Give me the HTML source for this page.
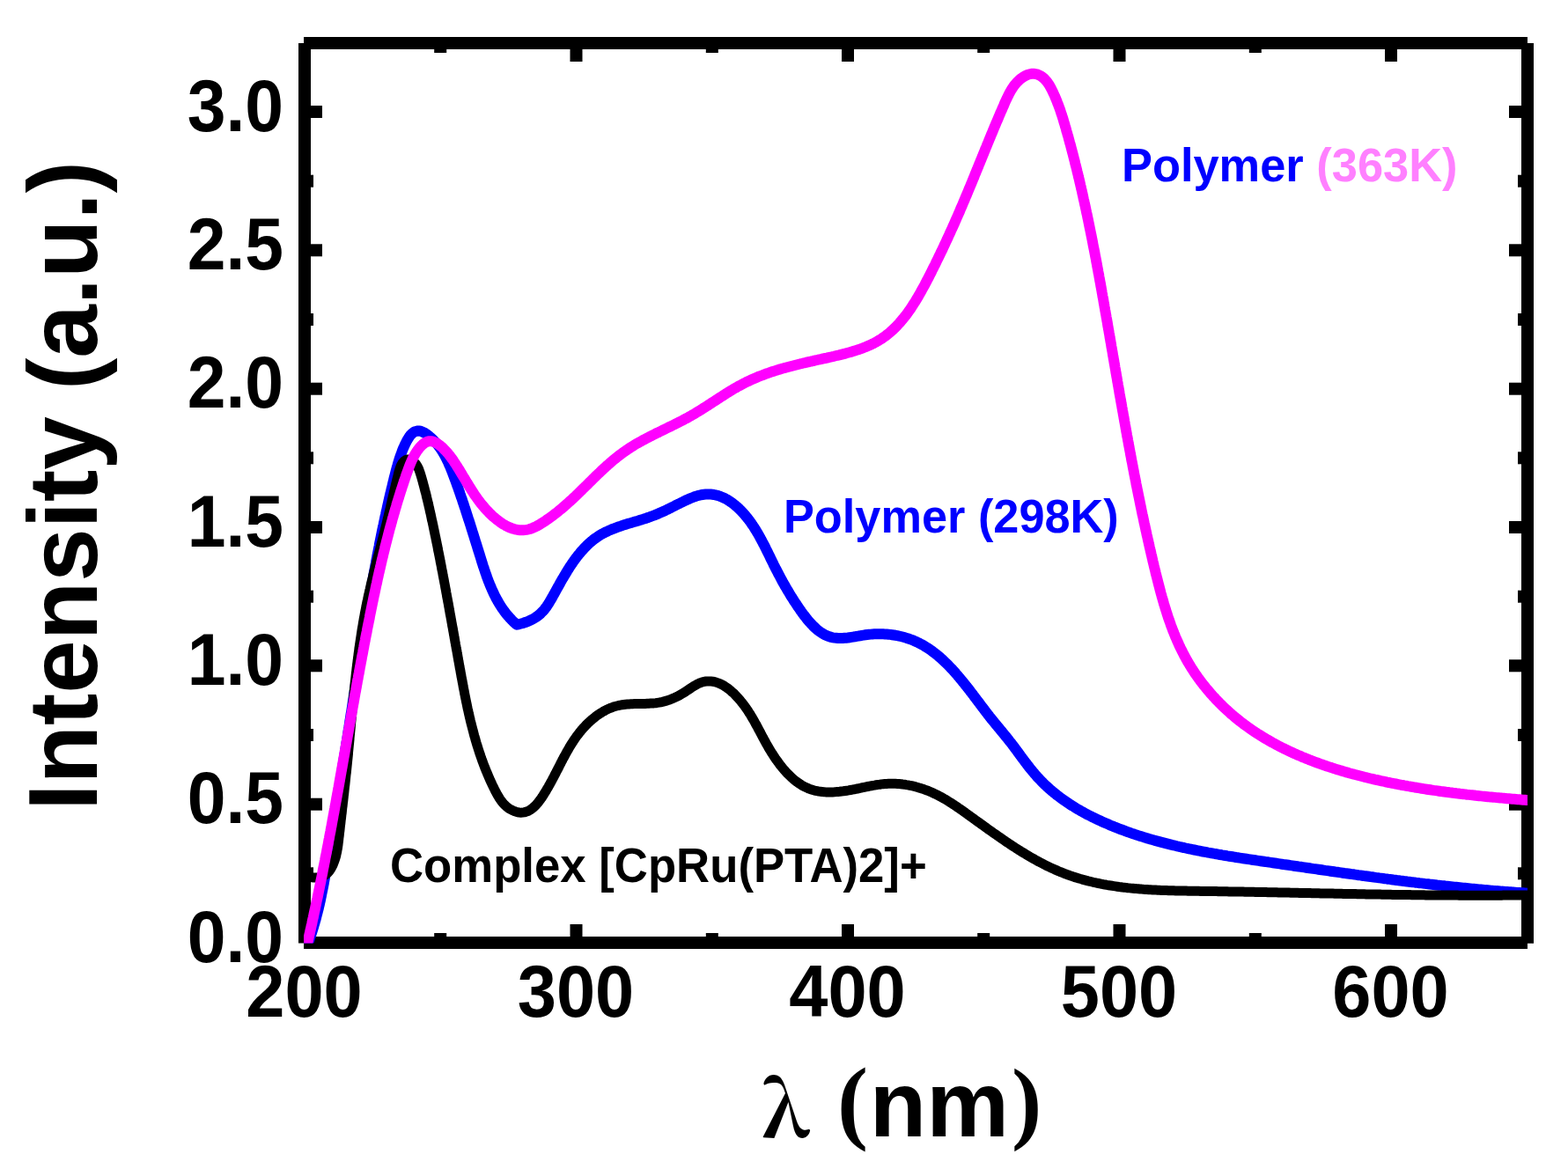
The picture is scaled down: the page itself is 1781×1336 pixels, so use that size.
<!DOCTYPE html>
<html><head><meta charset="utf-8"><title>Intensity vs wavelength</title>
<style>
html,body{margin:0;padding:0;background:#fff;}
body{width:1781px;height:1336px;overflow:hidden;}
svg{display:block;}
text{font-family:"Liberation Sans",Arial,sans-serif;font-weight:bold;}
.ser{font-family:"Liberation Serif","DejaVu Serif",serif;font-weight:bold;}
.lam{font-family:"Noto Serif CJK SC","Liberation Serif",serif;font-weight:700;}
</style></head><body>
<svg width="1781" height="1336" viewBox="0 0 1781 1336">
<rect x="0" y="0" width="1781" height="1336" fill="#fff"/>
<defs><clipPath id="pc"><rect x="345" y="49" width="1390" height="1022.6"/></clipPath></defs>

<g stroke="#000" stroke-width="14" fill="none" stroke-linecap="butt">
<path d="M345,49H1735M345,1071H1735M346,49V1071.6M1735,49V1071.8"/>
</g>
<g fill="#000">
<rect x="493.2" y="1060.0" width="14" height="4"/>
<rect x="493.2" y="56" width="14" height="4"/>
<rect x="647.5" y="1050.0" width="14" height="14"/>
<rect x="647.5" y="56" width="14" height="14"/>
<rect x="801.8" y="1060.0" width="14" height="4"/>
<rect x="801.8" y="56" width="14" height="4"/>
<rect x="956.0" y="1050.0" width="14" height="14"/>
<rect x="956.0" y="56" width="14" height="14"/>
<rect x="1110.2" y="1060.0" width="14" height="4"/>
<rect x="1110.2" y="56" width="14" height="4"/>
<rect x="1264.5" y="1050.0" width="14" height="14"/>
<rect x="1264.5" y="56" width="14" height="14"/>
<rect x="1418.8" y="1060.0" width="14" height="4"/>
<rect x="1418.8" y="56" width="14" height="4"/>
<rect x="1573.0" y="1050.0" width="14" height="14"/>
<rect x="1573.0" y="56" width="14" height="14"/>
<rect x="353" y="985.3" width="3" height="14"/>
<rect x="1724" y="985.3" width="4" height="14"/>
<rect x="353" y="906.7" width="13" height="14"/>
<rect x="1714" y="906.7" width="14" height="14"/>
<rect x="353" y="828.0" width="3" height="14"/>
<rect x="1724" y="828.0" width="4" height="14"/>
<rect x="353" y="749.3" width="13" height="14"/>
<rect x="1714" y="749.3" width="14" height="14"/>
<rect x="353" y="670.7" width="3" height="14"/>
<rect x="1724" y="670.7" width="4" height="14"/>
<rect x="353" y="592.0" width="13" height="14"/>
<rect x="1714" y="592.0" width="14" height="14"/>
<rect x="353" y="513.3" width="3" height="14"/>
<rect x="1724" y="513.3" width="4" height="14"/>
<rect x="353" y="434.7" width="13" height="14"/>
<rect x="1714" y="434.7" width="14" height="14"/>
<rect x="353" y="356.0" width="3" height="14"/>
<rect x="1724" y="356.0" width="4" height="14"/>
<rect x="353" y="277.3" width="13" height="14"/>
<rect x="1714" y="277.3" width="14" height="14"/>
<rect x="353" y="198.7" width="3" height="14"/>
<rect x="1724" y="198.7" width="4" height="14"/>
<rect x="353" y="120.0" width="13" height="14"/>
<rect x="1714" y="120.0" width="14" height="14"/>
</g>
<g clip-path="url(#pc)" fill="none" stroke-linejoin="round" stroke-linecap="butt">
<path stroke="#0000ff" stroke-width="12" d="M344.6,1085.0L345.4,1083.1 346.2,1081.3 346.9,1079.4 347.7,1077.5 348.4,1075.7 349.1,1073.8 349.8,1071.9 350.5,1070.0 351.2,1068.1 351.9,1066.2 352.5,1064.3 353.2,1062.4 353.8,1060.5 354.4,1058.6 355.0,1056.7 355.6,1054.8 356.2,1052.9 356.7,1050.9 357.3,1049.0 357.8,1047.1 358.4,1045.2 358.9,1043.2 359.4,1041.3 359.9,1039.3 360.4,1037.4 360.9,1035.5 361.4,1033.5 361.9,1031.6 362.3,1029.6 362.8,1027.7 363.2,1025.7 363.7,1023.8 364.1,1021.8 364.5,1019.8 364.9,1017.9 365.3,1015.9 365.7,1013.9 366.1,1012.0 366.5,1010.0 366.9,1008.0 367.3,1006.1 367.7,1004.1 368.0,1002.1 368.4,1000.1 368.7,998.2 369.1,996.2 369.4,994.2 369.8,992.2 370.1,990.2 370.5,988.3 370.8,986.3 371.1,984.3 371.4,982.3 371.8,980.3 372.1,978.3 372.4,976.4 372.7,974.4 373.1,972.4 373.4,970.4 373.7,968.4 374.0,966.4 374.3,964.5 374.6,962.5 374.9,960.5 375.3,958.5 375.6,956.5 375.9,954.5 376.2,952.6 376.5,950.6 376.8,948.6 377.1,946.6 377.4,944.6 377.8,942.6 378.1,940.7 378.4,938.7 378.7,936.7 379.0,934.7 379.3,932.7 379.7,930.8 380.0,928.8 380.3,926.8 380.6,924.8 380.9,922.8 381.2,920.9 381.5,918.9 381.9,916.9 382.2,914.9 382.5,913.0 382.8,911.0 383.1,909.0 383.4,907.0 383.8,905.0 384.1,903.1 384.4,901.1 384.7,899.1 385.0,897.1 385.3,895.2 385.7,893.2 386.0,891.2 386.3,889.2 386.6,887.2 386.9,885.3 387.2,883.3 387.5,881.3 387.9,879.3 388.2,877.4 388.5,875.4 388.8,873.4 389.1,871.4 389.4,869.5 389.8,867.5 390.1,865.5 390.4,863.5 390.7,861.6 391.0,859.6 391.3,857.6 391.7,855.6 392.0,853.6 392.3,851.7 392.6,849.7 392.9,847.7 393.2,845.7 393.5,843.8 393.9,841.8 394.2,839.8 394.5,837.8 394.8,835.8 395.1,833.9 395.4,831.9 395.7,829.9 396.0,827.9 396.4,826.0 396.7,824.0 397.0,822.0 397.3,820.0 397.6,818.0 397.9,816.1 398.2,814.1 398.5,812.1 398.8,810.1 399.2,808.1 399.5,806.1 399.8,804.2 400.1,802.2 400.4,800.2 400.7,798.2 401.0,796.2 401.3,794.3 401.6,792.3 401.9,790.3 402.3,788.3 402.6,786.3 402.9,784.3 403.2,782.3 403.5,780.4 403.8,778.4 404.1,776.4 404.4,774.4 404.7,772.4 405.0,770.4 405.3,768.5 405.6,766.5 406.0,764.5 406.3,762.5 406.6,760.5 406.9,758.5 407.2,756.5 407.5,754.6 407.8,752.6 408.1,750.6 408.4,748.6 408.8,746.6 409.1,744.6 409.4,742.6 409.7,740.7 410.0,738.7 410.3,736.7 410.6,734.7 411.0,732.7 411.3,730.7 411.6,728.7 411.9,726.8 412.2,724.8 412.5,722.8 412.9,720.8 413.2,718.8 413.5,716.8 413.8,714.8 414.2,712.9 414.5,710.9 414.8,708.9 415.1,706.9 415.5,704.9 415.8,702.9 416.1,701.0 416.4,699.0 416.8,697.0 417.1,695.0 417.4,693.0 417.8,691.1 418.1,689.1 418.4,687.1 418.8,685.1 419.1,683.1 419.4,681.2 419.8,679.2 420.1,677.2 420.5,675.2 420.8,673.2 421.2,671.3 421.5,669.3 421.9,667.3 422.2,665.3 422.6,663.3 422.9,661.4 423.3,659.4 423.6,657.4 424.0,655.4 424.3,653.5 424.7,651.5 425.0,649.5 425.4,647.6 425.8,645.6 426.1,643.6 426.5,641.6 426.9,639.7 427.2,637.7 427.6,635.7 428.0,633.8 428.4,631.8 428.7,629.8 429.1,627.9 429.5,625.9 429.9,623.9 430.3,622.0 430.7,620.0 431.0,618.0 431.4,616.1 431.8,614.1 432.2,612.1 432.6,610.2 433.0,608.2 433.4,606.3 433.8,604.3 434.2,602.3 434.6,600.4 435.0,598.4 435.5,596.5 435.9,594.5 436.3,592.6 436.7,590.6 437.1,588.7 437.5,586.7 438.0,584.8 438.4,582.8 438.8,580.9 439.3,578.9 439.7,577.0 440.1,575.0 440.6,573.1 441.0,571.1 441.4,569.2 441.9,567.2 442.3,565.3 442.8,563.4 443.2,561.4 443.7,559.5 444.2,557.5 444.6,555.6 445.1,553.7 445.6,551.7 446.0,549.8 446.5,547.9 447.0,545.9 447.4,544.0 447.9,542.1 448.4,540.1 448.9,538.2 449.4,536.3 449.9,534.4 450.4,532.4 450.9,530.5 451.5,528.6 452.0,526.7 452.6,524.7 453.2,522.8 453.8,520.9 454.4,519.0 455.1,517.1 455.8,515.2 456.5,513.3 457.2,511.3 458.0,509.4 458.9,507.5 459.7,505.6 460.6,503.7 461.6,501.8 462.6,499.9 463.7,498.1 464.8,496.3 466.0,494.6 467.4,493.2 468.8,491.9 470.4,490.8 472.1,490.0 473.9,489.6 475.7,489.5 477.6,489.8 479.4,490.4 481.2,491.2 483.1,492.3 484.8,493.5 486.6,494.8 488.2,496.2 489.8,497.6 491.3,499.0 492.8,500.5 494.2,501.9 495.6,503.5 496.9,505.0 498.1,506.6 499.3,508.2 500.5,509.8 501.6,511.5 502.7,513.2 503.7,514.9 504.7,516.6 505.6,518.3 506.5,520.1 507.4,521.9 508.3,523.6 509.1,525.4 509.9,527.3 510.7,529.1 511.5,530.9 512.2,532.8 513.0,534.6 513.7,536.5 514.4,538.3 515.1,540.2 515.8,542.0 516.5,543.9 517.2,545.8 517.9,547.7 518.6,549.5 519.2,551.4 519.9,553.3 520.6,555.2 521.2,557.0 521.9,558.9 522.5,560.8 523.2,562.7 523.8,564.6 524.5,566.4 525.1,568.3 525.7,570.2 526.4,572.1 527.0,574.0 527.6,575.9 528.3,577.8 528.9,579.7 529.5,581.6 530.1,583.5 530.7,585.4 531.3,587.3 531.9,589.2 532.6,591.1 533.2,593.0 533.8,594.9 534.4,596.8 535.0,598.7 535.6,600.6 536.2,602.6 536.8,604.5 537.4,606.4 538.0,608.3 538.6,610.2 539.2,612.1 539.8,614.1 540.4,616.0 541.0,617.9 541.6,619.8 542.2,621.7 542.8,623.7 543.4,625.6 544.0,627.5 544.6,629.4 545.2,631.4 545.8,633.3 546.4,635.2 547.0,637.2 547.6,639.1 548.2,641.0 548.8,643.0 549.5,644.9 550.1,646.8 550.8,648.7 551.4,650.6 552.1,652.5 552.7,654.5 553.4,656.3 554.1,658.2 554.8,660.1 555.6,662.0 556.3,663.9 557.1,665.7 557.9,667.6 558.6,669.4 559.5,671.2 560.3,673.0 561.1,674.8 562.0,676.6 562.9,678.4 563.8,680.1 564.8,681.9 565.8,683.6 566.7,685.3 567.8,687.0 568.8,688.6 569.9,690.3 571.0,691.9 572.2,693.5 573.3,695.1 574.5,696.7 575.8,698.2 577.0,699.7 578.4,701.2 579.7,702.7 581.1,704.2 582.5,705.6 584.0,707.0 585.5,708.4 587.0,709.7 589.0,709.3 590.9,708.8 592.9,708.3 594.8,707.7 596.7,707.0 598.6,706.3 600.5,705.6 602.3,704.8 604.0,703.9 605.8,703.0 607.4,702.0 609.1,700.9 610.6,699.8 612.1,698.7 613.6,697.4 614.9,696.1 616.2,694.8 617.5,693.4 618.7,691.9 619.8,690.4 621.0,688.9 622.0,687.3 623.1,685.7 624.1,684.0 625.1,682.3 626.1,680.6 627.1,678.9 628.0,677.2 629.0,675.4 630.0,673.7 631.0,671.9 631.9,670.1 632.9,668.3 633.9,666.6 634.9,664.8 635.9,663.0 636.9,661.2 637.9,659.4 638.9,657.6 640.0,655.9 641.0,654.1 642.1,652.3 643.1,650.6 644.2,648.8 645.3,647.1 646.4,645.3 647.5,643.6 648.6,641.9 649.8,640.2 650.9,638.5 652.1,636.9 653.3,635.2 654.5,633.6 655.7,632.0 657.0,630.4 658.3,628.9 659.5,627.3 660.8,625.8 662.2,624.3 663.5,622.9 664.9,621.4 666.3,620.0 667.7,618.7 669.1,617.3 670.6,616.0 672.1,614.8 673.6,613.5 675.1,612.3 676.7,611.2 678.3,610.1 679.9,609.0 681.6,607.9 683.3,606.9 685.0,606.0 686.7,605.1 688.5,604.2 690.3,603.4 692.1,602.5 693.9,601.8 695.7,601.0 697.6,600.3 699.5,599.6 701.4,598.9 703.3,598.2 705.2,597.6 707.1,596.9 709.0,596.3 710.9,595.7 712.9,595.1 714.8,594.5 716.8,594.0 718.7,593.4 720.7,592.8 722.6,592.2 724.5,591.7 726.5,591.1 728.4,590.5 730.3,589.9 732.2,589.3 734.1,588.7 736.0,588.0 737.8,587.4 739.7,586.7 741.5,586.0 743.3,585.3 745.1,584.6 746.9,583.9 748.7,583.1 750.5,582.3 752.3,581.5 754.0,580.7 755.8,579.9 757.6,579.0 759.3,578.2 761.1,577.3 762.9,576.4 764.7,575.5 766.6,574.6 768.4,573.6 770.3,572.7 772.2,571.8 774.1,570.8 776.0,569.9 778.0,568.9 779.9,568.0 781.9,567.1 783.8,566.3 785.8,565.5 787.8,564.7 789.8,564.0 791.7,563.4 793.7,562.8 795.7,562.4 797.7,562.0 799.6,561.7 801.5,561.5 803.5,561.4 805.4,561.4 807.3,561.5 809.1,561.7 811.0,562.0 812.8,562.4 814.7,562.8 816.5,563.4 818.3,564.0 820.0,564.7 821.8,565.5 823.5,566.3 825.2,567.2 826.9,568.2 828.5,569.3 830.2,570.4 831.8,571.5 833.4,572.7 834.9,574.0 836.5,575.3 838.0,576.6 839.5,578.0 840.9,579.4 842.3,580.9 843.7,582.4 845.1,583.9 846.4,585.5 847.7,587.0 849.0,588.6 850.3,590.2 851.5,591.9 852.7,593.5 853.9,595.2 855.0,596.9 856.2,598.6 857.3,600.4 858.3,602.1 859.4,603.8 860.5,605.6 861.5,607.4 862.5,609.2 863.5,611.0 864.5,612.8 865.4,614.6 866.4,616.4 867.3,618.2 868.3,620.0 869.2,621.8 870.1,623.7 871.0,625.5 871.9,627.3 872.8,629.1 873.7,630.9 874.6,632.7 875.4,634.6 876.3,636.3 877.2,638.1 878.1,639.9 878.9,641.7 879.8,643.4 880.7,645.2 881.6,646.9 882.5,648.6 883.4,650.4 884.3,652.1 885.2,653.8 886.1,655.5 887.0,657.2 887.9,658.9 888.8,660.6 889.7,662.3 890.7,663.9 891.6,665.6 892.6,667.3 893.6,669.0 894.6,670.7 895.6,672.3 896.6,674.0 897.6,675.7 898.6,677.4 899.7,679.0 900.8,680.7 901.8,682.4 902.9,684.1 904.1,685.8 905.2,687.5 906.3,689.2 907.5,690.9 908.7,692.6 909.9,694.4 911.1,696.1 912.4,697.8 913.7,699.5 915.0,701.2 916.3,702.9 917.7,704.6 919.1,706.2 920.6,707.9 922.0,709.4 923.5,711.0 925.1,712.5 926.7,714.0 928.3,715.4 930.0,716.7 931.7,718.0 933.5,719.1 935.2,720.2 937.0,721.2 938.8,722.0 940.6,722.8 942.4,723.4 944.2,723.9 946.1,724.3 947.9,724.6 949.8,724.8 951.7,725.0 953.5,725.0 955.4,725.0 957.3,725.0 959.2,724.8 961.2,724.7 963.1,724.5 965.0,724.2 967.0,723.9 969.0,723.6 970.9,723.3 972.9,722.9 974.9,722.6 976.9,722.3 978.9,721.9 980.9,721.6 982.9,721.3 984.9,721.0 986.9,720.8 988.9,720.6 991.0,720.4 993.0,720.3 995.0,720.2 997.1,720.2 999.1,720.2 1001.1,720.2 1003.2,720.3 1005.2,720.4 1007.2,720.5 1009.2,720.7 1011.3,720.9 1013.3,721.2 1015.3,721.5 1017.2,721.8 1019.2,722.2 1021.2,722.6 1023.1,723.0 1025.1,723.5 1027.0,724.0 1028.9,724.6 1030.8,725.2 1032.7,725.8 1034.5,726.5 1036.4,727.2 1038.2,727.9 1040.0,728.7 1041.7,729.5 1043.5,730.4 1045.2,731.3 1047.0,732.2 1048.6,733.1 1050.3,734.1 1052.0,735.2 1053.6,736.2 1055.3,737.3 1056.9,738.4 1058.5,739.5 1060.0,740.7 1061.6,741.9 1063.1,743.1 1064.7,744.3 1066.2,745.6 1067.7,746.9 1069.2,748.2 1070.6,749.5 1072.1,750.9 1073.5,752.3 1075.0,753.7 1076.4,755.1 1077.8,756.5 1079.2,758.0 1080.6,759.4 1082.0,760.9 1083.3,762.4 1084.7,763.9 1086.0,765.5 1087.4,767.0 1088.7,768.6 1090.0,770.1 1091.3,771.7 1092.6,773.3 1093.9,774.9 1095.2,776.5 1096.5,778.1 1097.8,779.7 1099.0,781.3 1100.3,782.9 1101.6,784.5 1102.8,786.2 1104.1,787.8 1105.3,789.4 1106.5,791.1 1107.8,792.7 1109.0,794.4 1110.2,796.0 1111.5,797.6 1112.7,799.2 1113.9,800.9 1115.1,802.5 1116.4,804.1 1117.6,805.7 1118.8,807.3 1120.0,808.9 1121.2,810.5 1122.5,812.1 1123.7,813.7 1124.9,815.2 1126.1,816.8 1127.4,818.3 1128.6,819.8 1129.8,821.3 1131.0,822.8 1132.3,824.3 1133.5,825.8 1134.8,827.3 1136.0,828.8 1137.2,830.3 1138.5,831.8 1139.7,833.3 1140.9,834.8 1142.1,836.3 1143.4,837.8 1144.6,839.3 1145.8,840.8 1147.0,842.4 1148.3,843.9 1149.5,845.5 1150.7,847.1 1151.9,848.7 1153.1,850.3 1154.3,851.9 1155.5,853.5 1156.7,855.2 1157.9,856.8 1159.1,858.5 1160.3,860.1 1161.6,861.8 1162.8,863.4 1164.0,865.1 1165.3,866.7 1166.5,868.3 1167.8,870.0 1169.0,871.6 1170.3,873.2 1171.6,874.8 1172.9,876.4 1174.2,877.9 1175.5,879.5 1176.9,881.0 1178.2,882.6 1179.6,884.1 1181.0,885.5 1182.4,887.0 1183.8,888.4 1185.2,889.9 1186.7,891.3 1188.1,892.6 1189.6,894.0 1191.1,895.4 1192.6,896.7 1194.1,898.0 1195.7,899.3 1197.2,900.6 1198.8,901.8 1200.3,903.1 1201.9,904.3 1203.5,905.5 1205.1,906.7 1206.7,907.9 1208.3,909.0 1210.0,910.2 1211.6,911.3 1213.3,912.4 1214.9,913.5 1216.6,914.6 1218.3,915.7 1220.0,916.7 1221.7,917.8 1223.4,918.8 1225.1,919.8 1226.9,920.8 1228.6,921.8 1230.4,922.8 1232.1,923.7 1233.9,924.7 1235.6,925.6 1237.4,926.5 1239.2,927.4 1241.0,928.3 1242.8,929.2 1244.6,930.1 1246.4,930.9 1248.2,931.8 1250.0,932.6 1251.8,933.4 1253.6,934.2 1255.4,935.0 1257.3,935.8 1259.1,936.6 1260.9,937.4 1262.8,938.2 1264.6,938.9 1266.5,939.7 1268.3,940.4 1270.2,941.1 1272.0,941.8 1273.9,942.5 1275.8,943.2 1277.6,943.9 1279.5,944.6 1281.4,945.3 1283.2,945.9 1285.1,946.6 1287.0,947.2 1288.9,947.9 1290.8,948.5 1292.7,949.1 1294.6,949.7 1296.5,950.3 1298.4,950.9 1300.3,951.5 1302.2,952.1 1304.1,952.6 1306.0,953.2 1307.9,953.8 1309.8,954.3 1311.7,954.9 1313.7,955.4 1315.6,955.9 1317.5,956.4 1319.4,956.9 1321.4,957.4 1323.3,957.9 1325.2,958.4 1327.2,958.9 1329.1,959.4 1331.1,959.9 1333.0,960.3 1334.9,960.8 1336.9,961.3 1338.8,961.7 1340.8,962.2 1342.7,962.6 1344.7,963.0 1346.7,963.5 1348.6,963.9 1350.6,964.3 1352.5,964.7 1354.5,965.1 1356.5,965.5 1358.4,965.9 1360.4,966.3 1362.4,966.7 1364.3,967.1 1366.3,967.5 1368.3,967.8 1370.3,968.2 1372.2,968.6 1374.2,968.9 1376.2,969.3 1378.2,969.6 1380.1,970.0 1382.1,970.3 1384.1,970.7 1386.1,971.0 1388.1,971.4 1390.1,971.7 1392.0,972.0 1394.0,972.4 1396.0,972.7 1398.0,973.0 1400.0,973.3 1402.0,973.6 1404.0,974.0 1406.0,974.3 1408.0,974.6 1409.9,974.9 1411.9,975.2 1413.9,975.5 1415.9,975.8 1417.9,976.1 1419.9,976.4 1421.9,976.7 1423.9,977.0 1425.9,977.3 1427.9,977.6 1429.9,977.9 1431.9,978.2 1433.9,978.5 1435.8,978.8 1437.8,979.1 1439.8,979.3 1441.8,979.6 1443.8,979.9 1445.8,980.2 1447.8,980.5 1449.8,980.8 1451.8,981.1 1453.8,981.4 1455.8,981.7 1457.7,982.0 1459.7,982.2 1461.7,982.5 1463.7,982.8 1465.7,983.1 1467.7,983.4 1469.7,983.7 1471.7,984.0 1473.6,984.3 1475.6,984.6 1477.6,984.8 1479.6,985.1 1481.6,985.4 1483.6,985.7 1485.6,986.0 1487.5,986.3 1489.5,986.6 1491.5,986.9 1493.5,987.1 1495.5,987.4 1497.5,987.7 1499.4,988.0 1501.4,988.3 1503.4,988.6 1505.4,988.9 1507.4,989.1 1509.3,989.4 1511.3,989.7 1513.3,990.0 1515.3,990.3 1517.3,990.6 1519.2,990.8 1521.2,991.1 1523.2,991.4 1525.2,991.7 1527.2,992.0 1529.1,992.2 1531.1,992.5 1533.1,992.8 1535.1,993.1 1537.1,993.3 1539.0,993.6 1541.0,993.9 1543.0,994.2 1545.0,994.4 1547.0,994.7 1548.9,995.0 1550.9,995.2 1552.9,995.5 1554.9,995.8 1556.9,996.1 1558.8,996.3 1560.8,996.6 1562.8,996.9 1564.8,997.1 1566.7,997.4 1568.7,997.6 1570.7,997.9 1572.7,998.2 1574.7,998.4 1576.6,998.7 1578.6,998.9 1580.6,999.2 1582.6,999.5 1584.6,999.7 1586.5,1000.0 1588.5,1000.2 1590.5,1000.5 1592.5,1000.7 1594.5,1001.0 1596.4,1001.2 1598.4,1001.5 1600.4,1001.7 1602.4,1002.0 1604.4,1002.2 1606.3,1002.4 1608.3,1002.7 1610.3,1002.9 1612.3,1003.2 1614.3,1003.4 1616.3,1003.6 1618.2,1003.9 1620.2,1004.1 1622.2,1004.3 1624.2,1004.6 1626.2,1004.8 1628.2,1005.0 1630.1,1005.2 1632.1,1005.5 1634.1,1005.7 1636.1,1005.9 1638.1,1006.1 1640.1,1006.3 1642.0,1006.6 1644.0,1006.8 1646.0,1007.0 1648.0,1007.2 1650.0,1007.4 1652.0,1007.6 1654.0,1007.8 1656.0,1008.0 1657.9,1008.2 1659.9,1008.4 1661.9,1008.6 1663.9,1008.8 1665.9,1009.0 1667.9,1009.2 1669.9,1009.4 1671.9,1009.6 1673.9,1009.8 1675.9,1010.0 1677.9,1010.2 1679.9,1010.4 1681.9,1010.5 1683.8,1010.7 1685.8,1010.9 1687.8,1011.1 1689.8,1011.2 1691.8,1011.4 1693.8,1011.6 1695.8,1011.8 1697.8,1011.9 1699.8,1012.1 1701.8,1012.2 1703.8,1012.4 1705.8,1012.6 1707.8,1012.7 1709.8,1012.9 1711.8,1013.0 1713.8,1013.2 1715.8,1013.3 1717.8,1013.5 1719.8,1013.6 1721.9,1013.8 1723.9,1013.9 1725.9,1014.0 1727.9,1014.2 1729.9,1014.3 1731.9,1014.4 1733.9,1014.6 1735.9,1014.7 1737.9,1014.8 1739.9,1014.9 1742.0,1015.0 1744.0,1015.2 1746.0,1015.3 1748.0,1015.4 1750.0,1015.5"/>
<path stroke="#000000" stroke-width="11" d="M336.0,997.0L337.7,996.6 339.5,996.3 341.4,996.2 343.3,996.1 345.3,996.2 347.4,996.3 349.5,996.5 351.6,996.6 353.8,996.8 356.0,996.9 358.2,996.9 360.3,996.9 362.4,996.7 364.4,996.3 366.3,995.7 368.1,994.9 369.7,993.9 371.2,992.7 372.5,991.4 373.8,989.9 375.0,988.3 376.0,986.6 377.0,984.8 377.9,983.0 378.7,981.1 379.4,979.3 380.1,977.4 380.7,975.5 381.3,973.6 381.8,971.6 382.2,969.7 382.7,967.7 383.0,965.7 383.4,963.8 383.7,961.8 384.0,959.8 384.2,957.8 384.5,955.8 384.7,953.7 384.9,951.7 385.2,949.7 385.4,947.7 385.6,945.7 385.9,943.7 386.1,941.7 386.3,939.7 386.5,937.7 386.8,935.7 387.0,933.7 387.2,931.7 387.5,929.7 387.7,927.7 387.9,925.7 388.2,923.7 388.4,921.7 388.6,919.7 388.8,917.7 389.1,915.7 389.3,913.7 389.5,911.7 389.8,909.7 390.0,907.7 390.2,905.8 390.4,903.8 390.7,901.8 390.9,899.8 391.1,897.8 391.3,895.8 391.5,893.8 391.8,891.8 392.0,889.9 392.2,887.9 392.4,885.9 392.6,883.9 392.8,881.9 393.0,879.9 393.3,877.9 393.5,876.0 393.7,874.0 393.9,872.0 394.1,870.0 394.3,868.0 394.5,866.0 394.7,864.0 394.9,862.1 395.1,860.1 395.3,858.1 395.5,856.1 395.6,854.1 395.8,852.1 396.0,850.1 396.2,848.1 396.4,846.1 396.6,844.2 396.8,842.2 397.0,840.2 397.1,838.2 397.3,836.2 397.5,834.2 397.7,832.2 397.9,830.2 398.1,828.2 398.3,826.2 398.4,824.3 398.6,822.3 398.8,820.3 399.0,818.3 399.2,816.3 399.4,814.3 399.6,812.3 399.7,810.3 399.9,808.3 400.1,806.3 400.3,804.3 400.5,802.4 400.7,800.4 400.9,798.4 401.1,796.4 401.3,794.4 401.5,792.4 401.7,790.4 401.9,788.4 402.1,786.4 402.3,784.4 402.5,782.5 402.7,780.5 402.9,778.5 403.1,776.5 403.3,774.5 403.6,772.5 403.8,770.5 404.0,768.5 404.2,766.5 404.4,764.5 404.7,762.6 404.9,760.6 405.1,758.6 405.4,756.6 405.6,754.6 405.9,752.6 406.1,750.6 406.4,748.6 406.6,746.7 406.9,744.7 407.1,742.7 407.4,740.7 407.7,738.7 407.9,736.7 408.2,734.8 408.5,732.8 408.8,730.8 409.1,728.8 409.4,726.8 409.7,724.8 410.0,722.9 410.3,720.9 410.6,718.9 410.9,716.9 411.2,714.9 411.5,713.0 411.9,711.0 412.2,709.0 412.5,707.0 412.9,705.0 413.2,703.1 413.6,701.1 414.0,699.1 414.3,697.1 414.7,695.2 415.1,693.2 415.5,691.2 415.8,689.2 416.2,687.3 416.6,685.3 417.0,683.3 417.5,681.4 417.9,679.4 418.3,677.4 418.7,675.5 419.2,673.5 419.6,671.5 420.1,669.6 420.5,667.6 421.0,665.6 421.4,663.7 421.9,661.7 422.4,659.7 422.9,657.8 423.4,655.8 423.8,653.9 424.3,651.9 424.8,649.9 425.3,648.0 425.8,646.0 426.3,644.1 426.8,642.1 427.3,640.2 427.8,638.2 428.3,636.3 428.8,634.4 429.3,632.4 429.9,630.5 430.4,628.5 430.9,626.6 431.4,624.7 431.9,622.8 432.4,620.8 432.9,618.9 433.4,617.0 433.9,615.1 434.4,613.1 434.9,611.2 435.4,609.3 435.9,607.4 436.4,605.5 436.9,603.6 437.3,601.7 437.8,599.8 438.3,597.9 438.8,596.0 439.2,594.1 439.7,592.2 440.1,590.3 440.6,588.4 441.0,586.6 441.5,584.7 441.9,582.8 442.4,580.9 442.8,579.0 443.3,577.1 443.7,575.2 444.1,573.3 444.6,571.3 445.0,569.4 445.5,567.5 445.9,565.5 446.4,563.5 446.9,561.5 447.3,559.5 447.8,557.5 448.3,555.5 448.8,553.4 449.3,551.4 449.8,549.3 450.3,547.2 450.8,545.0 451.3,542.9 451.9,540.7 452.4,538.5 453.0,536.2 453.6,534.0 454.3,531.9 455.1,529.8 455.9,528.0 457.0,526.2 458.1,524.8 459.4,523.6 460.7,522.7 462.2,522.1 463.8,522.0 465.4,522.2 467.0,522.8 468.6,523.7 470.1,524.8 471.5,526.2 472.8,527.7 473.9,529.4 474.9,531.3 475.8,533.2 476.5,535.2 477.2,537.3 477.9,539.4 478.5,541.5 479.1,543.6 479.7,545.7 480.3,547.8 480.8,549.8 481.4,551.9 481.9,553.9 482.4,555.9 482.9,557.9 483.5,559.9 484.0,561.9 484.4,563.9 484.9,565.9 485.4,567.8 485.9,569.8 486.3,571.7 486.8,573.7 487.2,575.6 487.7,577.5 488.1,579.5 488.5,581.4 489.0,583.3 489.4,585.2 489.8,587.1 490.2,589.1 490.6,591.0 491.1,592.9 491.5,594.8 491.9,596.7 492.3,598.7 492.7,600.6 493.1,602.5 493.5,604.4 493.9,606.4 494.3,608.3 494.7,610.2 495.1,612.2 495.5,614.1 495.9,616.0 496.3,618.0 496.7,619.9 497.1,621.9 497.4,623.8 497.8,625.8 498.2,627.7 498.6,629.7 499.0,631.6 499.4,633.6 499.8,635.5 500.1,637.5 500.5,639.4 500.9,641.4 501.3,643.3 501.6,645.3 502.0,647.3 502.4,649.2 502.8,651.2 503.1,653.2 503.5,655.1 503.9,657.1 504.3,659.1 504.6,661.0 505.0,663.0 505.4,665.0 505.7,666.9 506.1,668.9 506.5,670.9 506.8,672.9 507.2,674.8 507.5,676.8 507.9,678.8 508.3,680.8 508.6,682.7 509.0,684.7 509.4,686.7 509.7,688.7 510.1,690.7 510.4,692.6 510.8,694.6 511.1,696.6 511.5,698.6 511.9,700.6 512.2,702.5 512.6,704.5 512.9,706.5 513.3,708.5 513.6,710.5 514.0,712.4 514.4,714.4 514.7,716.4 515.1,718.4 515.4,720.4 515.8,722.4 516.1,724.3 516.5,726.3 516.8,728.3 517.2,730.3 517.5,732.3 517.9,734.2 518.2,736.2 518.6,738.2 519.0,740.2 519.3,742.2 519.7,744.1 520.0,746.1 520.4,748.1 520.7,750.1 521.1,752.0 521.4,754.0 521.8,756.0 522.1,758.0 522.5,759.9 522.9,761.9 523.2,763.9 523.6,765.9 523.9,767.8 524.3,769.8 524.7,771.8 525.0,773.7 525.4,775.7 525.8,777.7 526.1,779.6 526.5,781.6 526.9,783.6 527.3,785.5 527.6,787.5 528.0,789.4 528.4,791.4 528.8,793.4 529.2,795.3 529.6,797.3 530.0,799.2 530.4,801.2 530.8,803.1 531.2,805.1 531.7,807.0 532.1,809.0 532.5,810.9 533.0,812.9 533.4,814.8 533.9,816.7 534.3,818.7 534.8,820.6 535.3,822.5 535.8,824.5 536.3,826.4 536.8,828.3 537.3,830.2 537.8,832.2 538.3,834.1 538.8,836.0 539.4,837.9 539.9,839.8 540.5,841.8 541.0,843.7 541.6,845.6 542.2,847.5 542.8,849.4 543.4,851.3 544.0,853.2 544.6,855.1 545.3,857.0 545.9,858.9 546.6,860.8 547.2,862.6 547.9,864.5 548.6,866.4 549.3,868.3 550.0,870.2 550.7,872.0 551.5,873.9 552.2,875.8 553.0,877.6 553.8,879.5 554.6,881.4 555.4,883.2 556.2,885.1 557.0,886.9 557.9,888.8 558.7,890.6 559.6,892.5 560.5,894.3 561.4,896.1 562.3,898.0 563.3,899.8 564.2,901.6 565.2,903.4 566.3,905.2 567.3,906.9 568.5,908.6 569.7,910.3 570.9,911.8 572.3,913.4 573.7,914.8 575.2,916.2 576.8,917.5 578.5,918.7 580.3,919.7 582.2,920.7 584.1,921.5 586.0,922.2 587.9,922.7 589.8,923.0 591.7,923.2 593.6,923.1 595.4,922.9 597.1,922.4 598.8,921.8 600.5,921.1 602.1,920.1 603.6,919.1 605.2,917.9 606.6,916.6 608.1,915.2 609.5,913.7 610.9,912.1 612.2,910.4 613.5,908.7 614.8,906.9 616.0,905.1 617.2,903.2 618.4,901.3 619.6,899.4 620.7,897.5 621.8,895.6 622.9,893.8 623.9,891.9 625.0,890.0 626.0,888.1 627.0,886.3 628.0,884.4 629.0,882.6 629.9,880.8 630.9,878.9 631.8,877.1 632.7,875.3 633.7,873.5 634.6,871.7 635.5,869.9 636.4,868.1 637.3,866.4 638.2,864.6 639.1,862.9 640.0,861.1 641.0,859.4 641.9,857.7 642.8,856.0 643.8,854.3 644.7,852.6 645.7,851.0 646.6,849.3 647.6,847.6 648.6,846.0 649.6,844.4 650.7,842.8 651.7,841.2 652.8,839.6 653.9,838.0 655.0,836.4 656.2,834.9 657.3,833.4 658.5,831.8 659.8,830.3 661.0,828.8 662.3,827.3 663.6,825.9 665.0,824.4 666.4,823.0 667.8,821.6 669.3,820.2 670.8,818.8 672.3,817.5 673.9,816.2 675.5,814.9 677.1,813.6 678.7,812.4 680.4,811.3 682.1,810.2 683.9,809.1 685.6,808.1 687.4,807.1 689.2,806.2 691.0,805.3 692.9,804.5 694.8,803.8 696.6,803.1 698.6,802.5 700.5,802.0 702.5,801.5 704.4,801.1 706.4,800.8 708.4,800.5 710.4,800.2 712.5,800.0 714.5,799.9 716.5,799.8 718.6,799.7 720.6,799.6 722.7,799.5 724.7,799.5 726.8,799.5 728.8,799.4 730.8,799.4 732.9,799.4 734.9,799.3 736.9,799.2 738.9,799.1 740.9,799.0 742.8,798.9 744.8,798.7 746.7,798.4 748.6,798.1 750.5,797.8 752.3,797.4 754.2,796.9 756.0,796.4 757.8,795.9 759.6,795.3 761.4,794.6 763.2,793.9 765.0,793.2 766.8,792.3 768.6,791.5 770.4,790.6 772.2,789.6 774.0,788.5 775.8,787.5 777.7,786.3 779.5,785.1 781.4,783.9 783.3,782.6 785.1,781.4 787.0,780.2 788.9,779.0 790.8,777.9 792.7,776.9 794.6,776.0 796.5,775.3 798.4,774.7 800.3,774.3 802.1,774.0 804.0,773.9 805.8,773.9 807.6,774.0 809.5,774.2 811.3,774.5 813.0,775.0 814.8,775.6 816.6,776.2 818.3,777.0 820.0,777.8 821.7,778.7 823.4,779.8 825.0,780.8 826.6,782.0 828.2,783.2 829.8,784.5 831.3,785.9 832.9,787.2 834.4,788.7 835.8,790.2 837.2,791.7 838.6,793.2 840.0,794.8 841.3,796.4 842.6,798.0 843.9,799.6 845.1,801.2 846.3,802.8 847.4,804.4 848.6,806.1 849.7,807.7 850.7,809.4 851.8,811.1 852.8,812.7 853.8,814.4 854.8,816.1 855.8,817.8 856.8,819.5 857.7,821.2 858.6,822.9 859.6,824.6 860.5,826.3 861.4,828.1 862.3,829.8 863.3,831.5 864.2,833.3 865.1,835.0 866.0,836.7 867.0,838.5 867.9,840.2 868.9,842.0 869.8,843.7 870.8,845.5 871.8,847.2 872.8,849.0 873.8,850.8 874.9,852.5 876.0,854.3 877.1,856.1 878.2,857.8 879.4,859.6 880.5,861.3 881.7,863.0 882.9,864.7 884.2,866.4 885.4,868.1 886.7,869.8 888.0,871.4 889.3,873.0 890.7,874.6 892.1,876.2 893.5,877.7 894.9,879.2 896.3,880.6 897.8,882.0 899.3,883.4 900.8,884.8 902.3,886.1 903.9,887.3 905.5,888.5 907.1,889.6 908.7,890.7 910.4,891.8 912.0,892.8 913.7,893.7 915.5,894.5 917.2,895.3 919.0,896.1 920.8,896.7 922.6,897.3 924.4,897.9 926.3,898.3 928.2,898.7 930.1,899.1 932.0,899.3 933.9,899.6 935.9,899.7 937.8,899.9 939.8,899.9 941.8,900.0 943.8,899.9 945.8,899.9 947.8,899.8 949.8,899.6 951.8,899.5 953.8,899.3 955.8,899.0 957.9,898.8 959.9,898.5 961.9,898.2 963.9,897.9 966.0,897.5 968.0,897.1 970.0,896.8 972.0,896.4 973.9,896.0 975.9,895.6 977.9,895.2 979.9,894.7 981.8,894.3 983.8,893.9 985.7,893.5 987.6,893.1 989.6,892.8 991.5,892.4 993.4,892.1 995.4,891.7 997.3,891.4 999.3,891.2 1001.2,890.9 1003.2,890.7 1005.1,890.5 1007.1,890.4 1009.1,890.3 1011.1,890.2 1013.1,890.2 1015.1,890.2 1017.1,890.3 1019.2,890.4 1021.2,890.5 1023.2,890.7 1025.3,891.0 1027.3,891.2 1029.4,891.6 1031.4,891.9 1033.4,892.3 1035.4,892.7 1037.5,893.2 1039.5,893.7 1041.4,894.2 1043.4,894.8 1045.4,895.3 1047.3,896.0 1049.2,896.6 1051.1,897.3 1053.0,898.0 1054.9,898.7 1056.7,899.5 1058.5,900.3 1060.3,901.1 1062.1,902.0 1063.9,902.8 1065.6,903.7 1067.3,904.6 1069.1,905.5 1070.8,906.5 1072.5,907.5 1074.2,908.4 1075.8,909.4 1077.5,910.5 1079.1,911.5 1080.8,912.5 1082.4,913.6 1084.1,914.7 1085.7,915.8 1087.3,916.9 1088.9,918.0 1090.6,919.1 1092.2,920.2 1093.8,921.4 1095.4,922.5 1097.0,923.7 1098.6,924.8 1100.2,926.0 1101.8,927.1 1103.4,928.3 1105.1,929.5 1106.7,930.6 1108.3,931.8 1109.9,933.0 1111.5,934.1 1113.2,935.3 1114.8,936.5 1116.4,937.7 1118.1,938.8 1119.7,940.0 1121.3,941.2 1123.0,942.4 1124.6,943.5 1126.3,944.7 1127.9,945.9 1129.6,947.1 1131.3,948.2 1132.9,949.4 1134.6,950.5 1136.2,951.7 1137.9,952.8 1139.6,954.0 1141.3,955.1 1142.9,956.3 1144.6,957.4 1146.3,958.5 1148.0,959.7 1149.7,960.8 1151.4,961.9 1153.1,963.0 1154.8,964.1 1156.5,965.2 1158.2,966.2 1159.9,967.3 1161.6,968.4 1163.4,969.4 1165.1,970.5 1166.8,971.5 1168.5,972.5 1170.3,973.6 1172.0,974.6 1173.8,975.5 1175.5,976.5 1177.3,977.5 1179.0,978.5 1180.8,979.4 1182.6,980.3 1184.4,981.3 1186.1,982.2 1187.9,983.1 1189.7,984.0 1191.5,984.8 1193.3,985.7 1195.1,986.5 1196.9,987.3 1198.7,988.1 1200.5,988.9 1202.3,989.7 1204.2,990.5 1206.0,991.2 1207.8,991.9 1209.7,992.7 1211.5,993.3 1213.4,994.0 1215.2,994.7 1217.1,995.3 1219.0,995.9 1220.8,996.6 1222.7,997.1 1224.6,997.7 1226.5,998.3 1228.4,998.8 1230.3,999.4 1232.2,999.9 1234.1,1000.4 1236.0,1000.9 1237.9,1001.3 1239.8,1001.8 1241.7,1002.3 1243.6,1002.7 1245.6,1003.1 1247.5,1003.5 1249.4,1003.9 1251.4,1004.3 1253.3,1004.7 1255.3,1005.0 1257.2,1005.4 1259.2,1005.7 1261.1,1006.0 1263.1,1006.3 1265.0,1006.6 1267.0,1006.9 1269.0,1007.2 1271.0,1007.5 1272.9,1007.7 1274.9,1008.0 1276.9,1008.2 1278.9,1008.4 1280.9,1008.7 1282.8,1008.9 1284.8,1009.1 1286.8,1009.3 1288.8,1009.5 1290.8,1009.6 1292.8,1009.8 1294.8,1010.0 1296.8,1010.1 1298.8,1010.3 1300.8,1010.4 1302.8,1010.5 1304.8,1010.7 1306.8,1010.8 1308.9,1010.9 1310.9,1011.0 1312.9,1011.1 1314.9,1011.2 1316.9,1011.3 1318.9,1011.4 1321.0,1011.4 1323.0,1011.5 1325.0,1011.6 1327.0,1011.7 1329.1,1011.7 1331.1,1011.8 1333.1,1011.8 1335.1,1011.9 1337.2,1011.9 1339.2,1012.0 1341.2,1012.0 1343.2,1012.1 1345.3,1012.1 1347.3,1012.1 1349.3,1012.2 1351.3,1012.2 1353.4,1012.2 1355.4,1012.3 1357.4,1012.3 1359.4,1012.3 1361.5,1012.3 1363.5,1012.4 1365.5,1012.4 1367.5,1012.4 1369.6,1012.5 1371.6,1012.5 1373.6,1012.5 1375.6,1012.5 1377.7,1012.6 1379.7,1012.6 1381.7,1012.6 1383.7,1012.7 1385.7,1012.7 1387.8,1012.7 1389.8,1012.8 1391.8,1012.8 1393.8,1012.8 1395.8,1012.9 1397.8,1012.9 1399.8,1012.9 1401.9,1013.0 1403.9,1013.0 1405.9,1013.0 1407.9,1013.1 1409.9,1013.1 1411.9,1013.1 1413.9,1013.2 1415.9,1013.2 1417.9,1013.2 1420.0,1013.3 1422.0,1013.3 1424.0,1013.3 1426.0,1013.4 1428.0,1013.4 1430.0,1013.5 1432.0,1013.5 1434.0,1013.5 1436.0,1013.6 1438.0,1013.6 1440.0,1013.7 1442.0,1013.7 1444.0,1013.7 1446.0,1013.8 1448.0,1013.8 1450.0,1013.8 1452.0,1013.9 1454.0,1013.9 1456.0,1014.0 1458.0,1014.0 1460.0,1014.0 1462.0,1014.1 1464.0,1014.1 1466.0,1014.2 1468.0,1014.2 1470.0,1014.2 1472.0,1014.3 1474.0,1014.3 1476.0,1014.4 1478.0,1014.4 1480.0,1014.5 1482.0,1014.5 1484.0,1014.5 1486.0,1014.6 1488.0,1014.6 1490.0,1014.7 1492.0,1014.7 1493.9,1014.7 1495.9,1014.8 1497.9,1014.8 1499.9,1014.9 1501.9,1014.9 1503.9,1014.9 1505.9,1015.0 1507.9,1015.0 1509.9,1015.1 1511.9,1015.1 1513.9,1015.1 1515.9,1015.2 1517.9,1015.2 1519.8,1015.3 1521.8,1015.3 1523.8,1015.3 1525.8,1015.4 1527.8,1015.4 1529.8,1015.5 1531.8,1015.5 1533.8,1015.5 1535.8,1015.6 1537.8,1015.6 1539.8,1015.6 1541.7,1015.7 1543.7,1015.7 1545.7,1015.8 1547.7,1015.8 1549.7,1015.8 1551.7,1015.9 1553.7,1015.9 1555.7,1015.9 1557.7,1016.0 1559.7,1016.0 1561.6,1016.0 1563.6,1016.1 1565.6,1016.1 1567.6,1016.1 1569.6,1016.2 1571.6,1016.2 1573.6,1016.2 1575.6,1016.3 1577.6,1016.3 1579.6,1016.3 1581.6,1016.4 1583.5,1016.4 1585.5,1016.4 1587.5,1016.4 1589.5,1016.5 1591.5,1016.5 1593.5,1016.5 1595.5,1016.6 1597.5,1016.6 1599.5,1016.6 1601.5,1016.6 1603.5,1016.7 1605.5,1016.7 1607.5,1016.7 1609.4,1016.7 1611.4,1016.8 1613.4,1016.8 1615.4,1016.8 1617.4,1016.8 1619.4,1016.9 1621.4,1016.9 1623.4,1016.9 1625.4,1016.9 1627.4,1016.9 1629.4,1017.0 1631.4,1017.0 1633.4,1017.0 1635.4,1017.0 1637.4,1017.0 1639.4,1017.0 1641.4,1017.1 1643.4,1017.1 1645.4,1017.1 1647.4,1017.1 1649.4,1017.1 1651.4,1017.1 1653.4,1017.1 1655.4,1017.1 1657.4,1017.2 1659.4,1017.2 1661.4,1017.2 1663.4,1017.2 1665.4,1017.2 1667.4,1017.2 1669.4,1017.2 1671.4,1017.2 1673.4,1017.2 1675.4,1017.2 1677.4,1017.2 1679.4,1017.2 1681.4,1017.2 1683.4,1017.2 1685.4,1017.2 1687.4,1017.2 1689.5,1017.2 1691.5,1017.2 1693.5,1017.2 1695.5,1017.2 1697.5,1017.2 1699.5,1017.2 1701.5,1017.2 1703.5,1017.2 1705.5,1017.2 1707.6,1017.1 1709.6,1017.1 1711.6,1017.1 1713.6,1017.1 1715.6,1017.1 1717.6,1017.1 1719.7,1017.1 1721.7,1017.0 1723.7,1017.0 1725.7,1017.0 1727.7,1017.0 1729.8,1017.0 1731.8,1016.9 1733.8,1016.9 1735.8,1016.9 1737.8,1016.9 1739.9,1016.8 1741.9,1016.8 1743.9,1016.8 1746.0,1016.8 1748.0,1016.7 1750.0,1016.7"/>
<path stroke="#ff00ff" stroke-width="12" d="M346.0,1085.0L346.5,1083.1 346.9,1081.1 347.4,1079.2 347.9,1077.2 348.3,1075.3 348.8,1073.3 349.2,1071.4 349.7,1069.4 350.1,1067.5 350.6,1065.6 351.0,1063.6 351.4,1061.7 351.9,1059.7 352.3,1057.8 352.8,1055.8 353.2,1053.9 353.6,1051.9 354.1,1050.0 354.5,1048.0 354.9,1046.1 355.3,1044.1 355.8,1042.2 356.2,1040.2 356.6,1038.2 357.0,1036.3 357.5,1034.3 357.9,1032.4 358.3,1030.4 358.7,1028.5 359.1,1026.5 359.5,1024.6 359.9,1022.6 360.4,1020.6 360.8,1018.7 361.2,1016.7 361.6,1014.8 362.0,1012.8 362.4,1010.8 362.8,1008.9 363.2,1006.9 363.6,1005.0 364.0,1003.0 364.4,1001.0 364.8,999.1 365.2,997.1 365.6,995.1 366.0,993.2 366.4,991.2 366.7,989.3 367.1,987.3 367.5,985.3 367.9,983.4 368.3,981.4 368.7,979.4 369.1,977.5 369.4,975.5 369.8,973.5 370.2,971.6 370.6,969.6 371.0,967.6 371.3,965.7 371.7,963.7 372.1,961.7 372.5,959.8 372.9,957.8 373.2,955.8 373.6,953.8 374.0,951.9 374.3,949.9 374.7,947.9 375.1,946.0 375.5,944.0 375.8,942.0 376.2,940.1 376.6,938.1 376.9,936.1 377.3,934.1 377.6,932.2 378.0,930.2 378.4,928.2 378.7,926.2 379.1,924.3 379.5,922.3 379.8,920.3 380.2,918.4 380.5,916.4 380.9,914.4 381.3,912.4 381.6,910.5 382.0,908.5 382.3,906.5 382.7,904.5 383.0,902.6 383.4,900.6 383.8,898.6 384.1,896.6 384.5,894.7 384.8,892.7 385.2,890.7 385.5,888.8 385.9,886.8 386.2,884.8 386.6,882.8 386.9,880.9 387.3,878.9 387.6,876.9 388.0,874.9 388.3,873.0 388.7,871.0 389.0,869.0 389.4,867.0 389.7,865.1 390.1,863.1 390.4,861.1 390.8,859.1 391.1,857.2 391.5,855.2 391.8,853.2 392.2,851.2 392.5,849.3 392.9,847.3 393.2,845.3 393.6,843.3 393.9,841.4 394.3,839.4 394.6,837.4 395.0,835.4 395.3,833.5 395.7,831.5 396.0,829.5 396.4,827.5 396.7,825.6 397.1,823.6 397.4,821.6 397.8,819.7 398.1,817.7 398.5,815.7 398.8,813.7 399.2,811.8 399.5,809.8 399.9,807.8 400.3,805.8 400.6,803.9 401.0,801.9 401.3,799.9 401.7,798.0 402.0,796.0 402.4,794.0 402.7,792.0 403.1,790.1 403.4,788.1 403.8,786.1 404.2,784.2 404.5,782.2 404.9,780.2 405.2,778.3 405.6,776.3 405.9,774.3 406.3,772.3 406.7,770.4 407.0,768.4 407.4,766.4 407.8,764.5 408.1,762.5 408.5,760.5 408.8,758.6 409.2,756.6 409.6,754.6 409.9,752.7 410.3,750.7 410.7,748.8 411.0,746.8 411.4,744.8 411.8,742.9 412.2,740.9 412.5,738.9 412.9,737.0 413.3,735.0 413.6,733.0 414.0,731.1 414.4,729.1 414.8,727.2 415.1,725.2 415.5,723.2 415.9,721.3 416.3,719.3 416.7,717.4 417.0,715.4 417.4,713.4 417.8,711.5 418.2,709.5 418.6,707.6 419.0,705.6 419.4,703.7 419.8,701.7 420.1,699.7 420.5,697.8 420.9,695.8 421.3,693.9 421.7,691.9 422.1,690.0 422.5,688.0 422.9,686.1 423.3,684.1 423.7,682.2 424.1,680.2 424.5,678.3 424.9,676.3 425.4,674.4 425.8,672.4 426.2,670.5 426.6,668.5 427.0,666.6 427.4,664.6 427.9,662.7 428.3,660.7 428.7,658.8 429.1,656.8 429.6,654.9 430.0,652.9 430.4,651.0 430.9,649.1 431.3,647.1 431.8,645.2 432.2,643.2 432.7,641.3 433.1,639.3 433.6,637.4 434.0,635.4 434.5,633.5 435.0,631.6 435.4,629.6 435.9,627.7 436.4,625.7 436.9,623.8 437.3,621.8 437.8,619.9 438.3,618.0 438.8,616.0 439.3,614.1 439.8,612.1 440.3,610.2 440.8,608.2 441.3,606.3 441.8,604.4 442.3,602.4 442.8,600.5 443.4,598.5 443.9,596.6 444.4,594.7 445.0,592.7 445.5,590.8 446.0,588.8 446.6,586.9 447.1,585.0 447.7,583.0 448.3,581.1 448.8,579.1 449.4,577.2 450.0,575.3 450.5,573.3 451.1,571.4 451.7,569.4 452.3,567.5 452.9,565.6 453.5,563.6 454.1,561.7 454.7,559.7 455.3,557.8 456.0,555.9 456.6,553.9 457.2,552.0 457.9,550.0 458.5,548.1 459.2,546.1 459.8,544.2 460.5,542.3 461.1,540.3 461.8,538.4 462.5,536.4 463.2,534.5 463.9,532.6 464.6,530.7 465.3,528.8 466.1,526.9 466.9,525.0 467.7,523.1 468.6,521.3 469.5,519.5 470.5,517.7 471.5,515.9 472.5,514.2 473.6,512.5 474.8,510.9 476.0,509.3 477.3,507.7 478.7,506.3 480.1,504.9 481.6,503.8 483.1,502.8 484.6,502.0 486.2,501.5 487.8,501.2 489.5,501.2 491.2,501.5 492.8,502.0 494.5,502.7 496.2,503.6 497.9,504.7 499.6,506.0 501.2,507.3 502.9,508.8 504.4,510.4 506.0,512.0 507.5,513.6 508.9,515.3 510.3,517.0 511.6,518.7 512.9,520.5 514.2,522.2 515.4,524.0 516.5,525.7 517.7,527.5 518.8,529.2 519.9,531.0 521.0,532.7 522.1,534.5 523.1,536.2 524.2,538.0 525.2,539.7 526.2,541.4 527.3,543.1 528.3,544.8 529.3,546.5 530.3,548.2 531.3,549.8 532.4,551.5 533.4,553.2 534.4,554.8 535.5,556.5 536.5,558.1 537.6,559.7 538.6,561.4 539.7,563.0 540.9,564.6 542.0,566.2 543.1,567.7 544.3,569.3 545.5,570.9 546.7,572.4 548.0,574.0 549.3,575.5 550.6,577.1 552.0,578.6 553.3,580.1 554.8,581.6 556.2,583.1 557.7,584.5 559.2,586.0 560.8,587.4 562.4,588.7 564.0,590.1 565.6,591.3 567.3,592.6 568.9,593.7 570.6,594.9 572.4,595.9 574.1,596.9 575.9,597.9 577.6,598.7 579.4,599.5 581.3,600.2 583.1,600.8 584.9,601.3 586.8,601.7 588.6,602.0 590.5,602.2 592.4,602.3 594.2,602.3 596.1,602.1 598.0,601.9 599.9,601.5 601.8,601.0 603.7,600.3 605.6,599.6 607.4,598.8 609.3,597.9 611.2,596.9 613.0,595.8 614.8,594.7 616.6,593.6 618.4,592.4 620.2,591.2 621.9,590.0 623.6,588.8 625.3,587.6 627.0,586.4 628.6,585.2 630.2,583.9 631.8,582.7 633.4,581.5 634.9,580.2 636.5,578.9 638.0,577.7 639.5,576.4 641.0,575.1 642.5,573.8 643.9,572.5 645.4,571.2 646.8,569.9 648.3,568.6 649.7,567.3 651.1,566.0 652.6,564.6 654.0,563.3 655.4,561.9 656.8,560.6 658.2,559.2 659.6,557.8 661.0,556.5 662.4,555.1 663.8,553.7 665.2,552.3 666.7,550.9 668.1,549.5 669.5,548.1 670.9,546.7 672.4,545.2 673.8,543.8 675.2,542.4 676.7,541.0 678.1,539.6 679.6,538.2 681.1,536.8 682.5,535.4 684.0,534.0 685.5,532.6 687.0,531.3 688.5,529.9 690.0,528.5 691.5,527.2 693.0,525.9 694.6,524.5 696.1,523.2 697.7,521.9 699.2,520.7 700.8,519.4 702.4,518.1 704.0,516.9 705.6,515.7 707.2,514.5 708.8,513.4 710.4,512.2 712.1,511.1 713.7,510.0 715.4,508.9 717.1,507.8 718.7,506.8 720.4,505.7 722.1,504.7 723.8,503.7 725.6,502.7 727.3,501.8 729.0,500.8 730.7,499.9 732.5,498.9 734.2,498.0 736.0,497.1 737.7,496.2 739.5,495.3 741.3,494.4 743.1,493.5 744.8,492.6 746.6,491.7 748.4,490.9 750.2,490.0 752.0,489.1 753.8,488.2 755.5,487.4 757.3,486.5 759.1,485.6 760.9,484.8 762.7,483.9 764.5,483.0 766.3,482.1 768.1,481.2 769.8,480.3 771.6,479.4 773.4,478.5 775.2,477.6 777.0,476.7 778.7,475.7 780.5,474.8 782.2,473.8 784.0,472.8 785.7,471.8 787.5,470.8 789.2,469.8 791.0,468.7 792.7,467.7 794.4,466.6 796.1,465.6 797.8,464.5 799.5,463.4 801.3,462.3 803.0,461.2 804.7,460.1 806.4,459.0 808.1,457.9 809.8,456.8 811.5,455.7 813.2,454.6 814.9,453.5 816.6,452.4 818.3,451.3 820.0,450.2 821.7,449.1 823.4,448.0 825.1,446.9 826.8,445.9 828.5,444.8 830.3,443.8 832.0,442.7 833.7,441.7 835.4,440.7 837.2,439.7 838.9,438.7 840.7,437.8 842.4,436.8 844.2,435.9 845.9,435.0 847.7,434.1 849.5,433.3 851.3,432.4 853.1,431.6 854.9,430.8 856.7,430.0 858.5,429.2 860.3,428.4 862.1,427.7 863.9,427.0 865.8,426.3 867.6,425.6 869.5,424.9 871.3,424.2 873.2,423.6 875.1,422.9 876.9,422.3 878.8,421.7 880.7,421.1 882.6,420.5 884.5,419.9 886.4,419.4 888.3,418.8 890.2,418.3 892.1,417.7 894.0,417.2 895.9,416.7 897.8,416.2 899.8,415.7 901.7,415.2 903.6,414.7 905.6,414.2 907.5,413.7 909.5,413.2 911.4,412.8 913.4,412.3 915.4,411.9 917.3,411.4 919.3,411.0 921.3,410.5 923.3,410.1 925.2,409.6 927.2,409.2 929.2,408.7 931.2,408.3 933.2,407.9 935.2,407.4 937.2,407.0 939.2,406.6 941.2,406.1 943.2,405.7 945.2,405.2 947.2,404.8 949.2,404.3 951.2,403.8 953.2,403.4 955.2,402.9 957.2,402.4 959.2,401.9 961.2,401.3 963.1,400.8 965.1,400.3 967.0,399.7 969.0,399.1 970.9,398.5 972.8,397.9 974.7,397.3 976.6,396.6 978.5,396.0 980.3,395.3 982.2,394.5 984.0,393.8 985.8,393.0 987.6,392.2 989.4,391.4 991.2,390.6 992.9,389.7 994.6,388.8 996.3,387.8 998.0,386.9 999.6,385.8 1001.3,384.8 1002.8,383.7 1004.4,382.6 1006.0,381.5 1007.5,380.3 1009.0,379.1 1010.5,377.9 1011.9,376.6 1013.4,375.3 1014.8,374.0 1016.2,372.7 1017.6,371.3 1018.9,369.9 1020.2,368.5 1021.6,367.0 1022.9,365.5 1024.1,364.0 1025.4,362.5 1026.6,361.0 1027.9,359.4 1029.1,357.9 1030.3,356.3 1031.5,354.6 1032.6,353.0 1033.8,351.4 1034.9,349.7 1036.0,348.0 1037.1,346.3 1038.2,344.6 1039.3,342.9 1040.4,341.1 1041.4,339.4 1042.5,337.6 1043.5,335.9 1044.5,334.1 1045.5,332.3 1046.5,330.5 1047.5,328.7 1048.5,326.9 1049.5,325.1 1050.5,323.3 1051.4,321.5 1052.4,319.6 1053.3,317.8 1054.3,316.0 1055.2,314.2 1056.2,312.3 1057.1,310.5 1058.0,308.7 1058.9,306.8 1059.8,305.0 1060.7,303.2 1061.7,301.4 1062.6,299.5 1063.4,297.7 1064.3,295.9 1065.2,294.1 1066.1,292.3 1067.0,290.4 1067.9,288.6 1068.7,286.8 1069.6,285.0 1070.5,283.2 1071.3,281.4 1072.2,279.5 1073.0,277.7 1073.9,275.9 1074.7,274.1 1075.6,272.3 1076.4,270.5 1077.2,268.7 1078.1,266.8 1078.9,265.0 1079.7,263.2 1080.5,261.4 1081.4,259.6 1082.2,257.8 1083.0,256.0 1083.8,254.2 1084.6,252.3 1085.4,250.5 1086.2,248.7 1087.0,246.9 1087.8,245.1 1088.6,243.3 1089.4,241.5 1090.2,239.7 1090.9,237.8 1091.7,236.0 1092.5,234.2 1093.3,232.4 1094.0,230.6 1094.8,228.8 1095.6,227.0 1096.3,225.1 1097.1,223.3 1097.9,221.5 1098.6,219.7 1099.4,217.9 1100.1,216.1 1100.9,214.2 1101.7,212.4 1102.4,210.6 1103.2,208.8 1103.9,207.0 1104.7,205.1 1105.4,203.3 1106.2,201.5 1106.9,199.7 1107.6,197.8 1108.4,196.0 1109.1,194.2 1109.9,192.3 1110.6,190.5 1111.4,188.7 1112.1,186.8 1112.9,185.0 1113.6,183.2 1114.4,181.3 1115.1,179.5 1115.9,177.6 1116.6,175.8 1117.4,174.0 1118.1,172.1 1118.9,170.3 1119.6,168.4 1120.4,166.6 1121.1,164.7 1121.9,162.9 1122.7,161.0 1123.4,159.1 1124.2,157.3 1125.0,155.4 1125.7,153.5 1126.5,151.7 1127.3,149.8 1128.1,147.9 1128.8,146.1 1129.6,144.2 1130.4,142.3 1131.2,140.4 1132.0,138.5 1132.8,136.7 1133.6,134.8 1134.4,132.9 1135.2,131.0 1136.0,129.1 1136.8,127.2 1137.7,125.3 1138.5,123.4 1139.3,121.5 1140.2,119.6 1141.0,117.6 1141.8,115.7 1142.7,113.8 1143.6,111.9 1144.5,110.0 1145.4,108.2 1146.3,106.3 1147.3,104.5 1148.3,102.8 1149.4,101.0 1150.5,99.3 1151.6,97.7 1152.8,96.1 1154.1,94.6 1155.4,93.1 1156.8,91.8 1158.2,90.4 1159.7,89.2 1161.3,88.1 1163.0,87.0 1164.8,86.0 1166.6,85.2 1168.4,84.5 1170.3,84.1 1172.2,83.8 1174.1,83.8 1176.0,84.0 1177.9,84.4 1179.7,85.1 1181.4,85.9 1183.0,86.9 1184.6,88.1 1186.1,89.4 1187.4,90.8 1188.8,92.3 1190.0,94.0 1191.2,95.7 1192.3,97.5 1193.3,99.4 1194.3,101.3 1195.3,103.2 1196.2,105.1 1197.1,107.1 1198.0,109.0 1198.8,111.0 1199.6,112.9 1200.4,114.8 1201.1,116.8 1201.9,118.7 1202.6,120.6 1203.3,122.5 1204.0,124.4 1204.6,126.3 1205.2,128.2 1205.9,130.1 1206.5,132.0 1207.1,133.9 1207.7,135.8 1208.2,137.7 1208.8,139.6 1209.4,141.5 1209.9,143.4 1210.5,145.3 1211.0,147.2 1211.5,149.1 1212.1,151.0 1212.6,152.9 1213.2,154.8 1213.7,156.7 1214.2,158.6 1214.7,160.5 1215.2,162.4 1215.8,164.3 1216.3,166.3 1216.8,168.2 1217.3,170.1 1217.8,172.0 1218.3,173.9 1218.8,175.8 1219.3,177.8 1219.8,179.7 1220.3,181.6 1220.8,183.5 1221.2,185.5 1221.7,187.4 1222.2,189.3 1222.7,191.2 1223.2,193.2 1223.6,195.1 1224.1,197.0 1224.6,199.0 1225.0,200.9 1225.5,202.8 1226.0,204.8 1226.4,206.7 1226.9,208.7 1227.3,210.6 1227.8,212.5 1228.2,214.5 1228.7,216.4 1229.1,218.4 1229.5,220.3 1230.0,222.3 1230.4,224.2 1230.8,226.2 1231.3,228.1 1231.7,230.1 1232.1,232.0 1232.6,234.0 1233.0,235.9 1233.4,237.9 1233.8,239.8 1234.2,241.8 1234.7,243.8 1235.1,245.7 1235.5,247.7 1235.9,249.6 1236.3,251.6 1236.7,253.5 1237.1,255.5 1237.5,257.5 1237.9,259.4 1238.3,261.4 1238.7,263.4 1239.1,265.3 1239.5,267.3 1239.9,269.3 1240.3,271.2 1240.7,273.2 1241.1,275.2 1241.4,277.1 1241.8,279.1 1242.2,281.1 1242.6,283.0 1243.0,285.0 1243.4,287.0 1243.7,288.9 1244.1,290.9 1244.5,292.9 1244.9,294.9 1245.2,296.8 1245.6,298.8 1246.0,300.8 1246.3,302.8 1246.7,304.7 1247.1,306.7 1247.4,308.7 1247.8,310.7 1248.2,312.6 1248.5,314.6 1248.9,316.6 1249.2,318.6 1249.6,320.5 1250.0,322.5 1250.3,324.5 1250.7,326.5 1251.0,328.4 1251.4,330.4 1251.7,332.4 1252.1,334.4 1252.4,336.4 1252.8,338.3 1253.2,340.3 1253.5,342.3 1253.8,344.3 1254.2,346.2 1254.5,348.2 1254.9,350.2 1255.2,352.2 1255.6,354.2 1255.9,356.1 1256.3,358.1 1256.6,360.1 1257.0,362.1 1257.3,364.0 1257.7,366.0 1258.0,368.0 1258.3,370.0 1258.7,372.0 1259.0,373.9 1259.4,375.9 1259.7,377.9 1260.1,379.9 1260.4,381.8 1260.7,383.8 1261.1,385.8 1261.4,387.8 1261.8,389.7 1262.1,391.7 1262.4,393.7 1262.8,395.7 1263.1,397.6 1263.5,399.6 1263.8,401.6 1264.1,403.6 1264.5,405.5 1264.8,407.5 1265.2,409.5 1265.5,411.5 1265.8,413.4 1266.2,415.4 1266.5,417.4 1266.9,419.4 1267.2,421.3 1267.5,423.3 1267.9,425.3 1268.2,427.2 1268.6,429.2 1268.9,431.2 1269.2,433.2 1269.6,435.1 1269.9,437.1 1270.3,439.1 1270.6,441.0 1271.0,443.0 1271.3,445.0 1271.6,447.0 1272.0,448.9 1272.3,450.9 1272.7,452.9 1273.0,454.8 1273.4,456.8 1273.7,458.8 1274.1,460.7 1274.4,462.7 1274.8,464.7 1275.1,466.7 1275.5,468.6 1275.8,470.6 1276.2,472.6 1276.5,474.5 1276.9,476.5 1277.2,478.5 1277.6,480.4 1277.9,482.4 1278.3,484.4 1278.6,486.3 1279.0,488.3 1279.3,490.3 1279.7,492.2 1280.0,494.2 1280.4,496.2 1280.8,498.1 1281.1,500.1 1281.5,502.1 1281.8,504.0 1282.2,506.0 1282.6,508.0 1282.9,509.9 1283.3,511.9 1283.7,513.9 1284.0,515.8 1284.4,517.8 1284.8,519.8 1285.1,521.7 1285.5,523.7 1285.9,525.6 1286.3,527.6 1286.6,529.6 1287.0,531.5 1287.4,533.5 1287.8,535.5 1288.1,537.4 1288.5,539.4 1288.9,541.3 1289.3,543.3 1289.7,545.3 1290.1,547.2 1290.4,549.2 1290.8,551.2 1291.2,553.1 1291.6,555.1 1292.0,557.0 1292.4,559.0 1292.8,561.0 1293.2,562.9 1293.6,564.9 1294.0,566.8 1294.4,568.8 1294.8,570.8 1295.2,572.7 1295.6,574.7 1296.0,576.6 1296.4,578.6 1296.8,580.6 1297.2,582.5 1297.6,584.5 1298.1,586.4 1298.5,588.4 1298.9,590.3 1299.3,592.3 1299.7,594.3 1300.2,596.2 1300.6,598.2 1301.0,600.1 1301.4,602.1 1301.9,604.0 1302.3,606.0 1302.7,608.0 1303.2,609.9 1303.6,611.9 1304.0,613.8 1304.5,615.8 1304.9,617.7 1305.4,619.7 1305.8,621.7 1306.3,623.6 1306.7,625.6 1307.2,627.5 1307.6,629.5 1308.1,631.4 1308.5,633.4 1309.0,635.3 1309.4,637.3 1309.9,639.2 1310.4,641.2 1310.8,643.1 1311.3,645.1 1311.8,647.1 1312.3,649.0 1312.7,651.0 1313.2,652.9 1313.7,654.9 1314.2,656.8 1314.7,658.8 1315.2,660.7 1315.7,662.7 1316.2,664.6 1316.7,666.5 1317.2,668.5 1317.7,670.4 1318.2,672.4 1318.7,674.3 1319.3,676.2 1319.8,678.2 1320.4,680.1 1320.9,682.0 1321.5,684.0 1322.0,685.9 1322.6,687.8 1323.2,689.7 1323.8,691.6 1324.4,693.6 1325.0,695.5 1325.6,697.4 1326.2,699.3 1326.8,701.2 1327.5,703.1 1328.1,704.9 1328.8,706.8 1329.5,708.7 1330.1,710.6 1330.8,712.4 1331.5,714.3 1332.2,716.2 1333.0,718.0 1333.7,719.9 1334.5,721.7 1335.2,723.6 1336.0,725.4 1336.8,727.2 1337.6,729.0 1338.4,730.8 1339.2,732.7 1340.1,734.5 1340.9,736.3 1341.8,738.0 1342.7,739.8 1343.6,741.6 1344.5,743.4 1345.4,745.1 1346.4,746.9 1347.3,748.6 1348.3,750.4 1349.3,752.1 1350.3,753.8 1351.3,755.5 1352.4,757.2 1353.4,758.9 1354.5,760.6 1355.6,762.3 1356.7,764.0 1357.8,765.6 1359.0,767.3 1360.1,768.9 1361.3,770.6 1362.5,772.2 1363.7,773.8 1364.9,775.4 1366.1,777.0 1367.4,778.6 1368.6,780.1 1369.9,781.7 1371.2,783.3 1372.5,784.8 1373.8,786.3 1375.1,787.9 1376.5,789.4 1377.8,790.9 1379.2,792.3 1380.5,793.8 1381.9,795.3 1383.3,796.7 1384.7,798.2 1386.1,799.6 1387.6,801.0 1389.0,802.4 1390.4,803.8 1391.9,805.2 1393.4,806.5 1394.9,807.9 1396.3,809.2 1397.8,810.6 1399.3,811.9 1400.9,813.2 1402.4,814.5 1403.9,815.7 1405.5,817.0 1407.0,818.2 1408.6,819.5 1410.2,820.7 1411.7,821.9 1413.3,823.1 1414.9,824.3 1416.5,825.4 1418.2,826.6 1419.8,827.7 1421.4,828.9 1423.0,830.0 1424.7,831.1 1426.4,832.2 1428.0,833.3 1429.7,834.3 1431.4,835.4 1433.0,836.4 1434.7,837.5 1436.4,838.5 1438.1,839.5 1439.9,840.5 1441.6,841.5 1443.3,842.5 1445.0,843.5 1446.8,844.4 1448.5,845.4 1450.3,846.3 1452.0,847.2 1453.8,848.2 1455.6,849.1 1457.4,850.0 1459.1,850.8 1460.9,851.7 1462.7,852.6 1464.5,853.4 1466.3,854.3 1468.2,855.1 1470.0,855.9 1471.8,856.7 1473.6,857.6 1475.5,858.3 1477.3,859.1 1479.1,859.9 1481.0,860.7 1482.9,861.4 1484.7,862.2 1486.6,862.9 1488.4,863.7 1490.3,864.4 1492.2,865.1 1494.1,865.8 1496.0,866.5 1497.8,867.2 1499.7,867.9 1501.6,868.5 1503.5,869.2 1505.4,869.8 1507.3,870.5 1509.2,871.1 1511.2,871.7 1513.1,872.4 1515.0,873.0 1516.9,873.6 1518.8,874.2 1520.8,874.8 1522.7,875.4 1524.6,875.9 1526.6,876.5 1528.5,877.1 1530.4,877.6 1532.4,878.2 1534.3,878.7 1536.3,879.2 1538.2,879.8 1540.2,880.3 1542.1,880.8 1544.1,881.3 1546.0,881.8 1548.0,882.3 1549.9,882.8 1551.9,883.2 1553.8,883.7 1555.8,884.2 1557.8,884.7 1559.7,885.1 1561.7,885.6 1563.7,886.0 1565.6,886.4 1567.6,886.9 1569.5,887.3 1571.5,887.7 1573.5,888.1 1575.4,888.6 1577.4,889.0 1579.4,889.4 1581.3,889.8 1583.3,890.1 1585.3,890.5 1587.2,890.9 1589.2,891.3 1591.2,891.7 1593.1,892.0 1595.1,892.4 1597.1,892.7 1599.0,893.1 1601.0,893.4 1603.0,893.8 1605.0,894.1 1606.9,894.5 1608.9,894.8 1610.9,895.1 1612.8,895.4 1614.8,895.8 1616.8,896.1 1618.7,896.4 1620.7,896.7 1622.7,897.0 1624.7,897.3 1626.6,897.6 1628.6,897.9 1630.6,898.1 1632.6,898.4 1634.5,898.7 1636.5,899.0 1638.5,899.2 1640.5,899.5 1642.4,899.8 1644.4,900.0 1646.4,900.3 1648.4,900.5 1650.3,900.8 1652.3,901.0 1654.3,901.3 1656.3,901.5 1658.3,901.8 1660.2,902.0 1662.2,902.2 1664.2,902.4 1666.2,902.7 1668.2,902.9 1670.2,903.1 1672.1,903.3 1674.1,903.5 1676.1,903.8 1678.1,904.0 1680.1,904.2 1682.1,904.4 1684.1,904.6 1686.0,904.8 1688.0,905.0 1690.0,905.2 1692.0,905.4 1694.0,905.5 1696.0,905.7 1698.0,905.9 1700.0,906.1 1702.0,906.3 1704.0,906.5 1706.0,906.6 1708.0,906.8 1710.0,907.0 1711.9,907.2 1713.9,907.3 1715.9,907.5 1717.9,907.7 1719.9,907.8 1721.9,908.0 1723.9,908.2 1725.9,908.3 1727.9,908.5 1729.9,908.7 1731.9,908.8 1733.9,909.0 1736.0,909.1 1738.0,909.3 1740.0,909.4 1742.0,909.6 1744.0,909.8 1746.0,909.9 1748.0,910.1 1750.0,910.2"/>
</g>
<g font-size="80" text-anchor="end">
<text transform="matrix(0.98286 0 0 1.05357 321.95 1092.75)">0.0</text>
<text transform="matrix(0.98286 0 0 1.05357 321.95 935.41)">0.5</text>
<text transform="matrix(0.98286 0 0 1.05357 321.95 778.08)">1.0</text>
<text transform="matrix(0.98286 0 0 1.05357 321.95 620.75)">1.5</text>
<text transform="matrix(0.98286 0 0 1.05357 321.95 463.41)">2.0</text>
<text transform="matrix(0.98286 0 0 1.05357 321.95 306.08)">2.5</text>
<text transform="matrix(0.98286 0 0 1.05357 321.95 148.75)">3.0</text>
</g>
<g font-size="80" text-anchor="middle">
<text transform="matrix(0.99213 0 0 1.03333 345.50 1154.77)">200</text>
<text transform="matrix(0.99213 0 0 1.03333 654.00 1154.77)">300</text>
<text transform="matrix(0.99213 0 0 1.03333 962.50 1154.77)">400</text>
<text transform="matrix(0.99213 0 0 1.03333 1271.00 1154.77)">500</text>
<text transform="matrix(0.99213 0 0 1.03333 1579.50 1154.77)">600</text>
</g>
<text font-size="108" transform="translate(109.52 920.76) rotate(-90) scale(1.00792 1.02200)">Intensity (a.u.)</text>
<text><tspan class="lam" x="864.99" y="1291.78" font-size="86.74">λ</tspan> <tspan class="ser" x="950.90" y="1286.10" font-size="105.10">(</tspan><tspan x="987.84" y="1290.67" font-size="105.48">nm</tspan><tspan class="ser" x="1148.96" y="1285.55" font-size="102.82">)</tspan></text>
<text font-size="53" transform="matrix(0.98918 0 0 1.02703 1273.94 205.80)"><tspan fill="#0000ff">Polymer </tspan><tspan fill="#ff80ff">(363K)</tspan></text>
<text font-size="53" fill="#0000ff" transform="matrix(0.98707 0 0 1.02432 889.95 604.90)">Polymer (298K)</text>
<text font-size="53" fill="#000" transform="matrix(0.99507 0 0 1.05676 443.01 1001.90)">Complex [CpRu(PTA)2]+</text>
</svg></body></html>
